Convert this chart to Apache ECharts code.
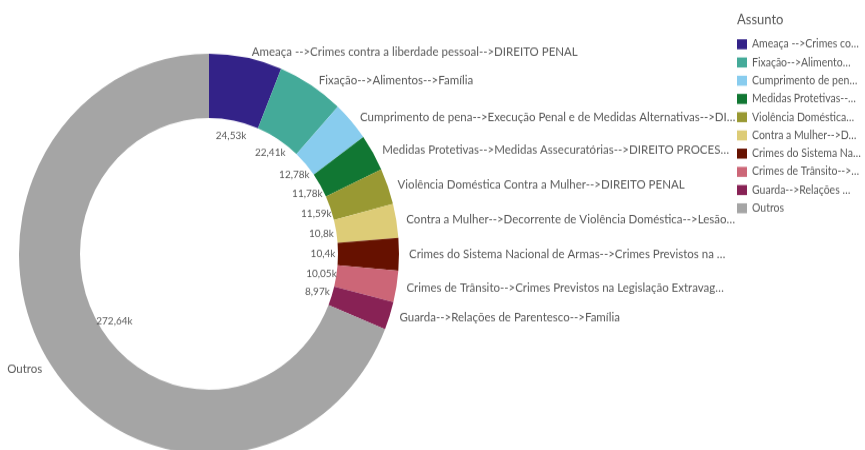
<!DOCTYPE html>
<html>
<head>
<meta charset="utf-8">
<script src="https://cdn.jsdelivr.net/npm/echarts@6/dist/echarts.min.js"></script>
<style>
  html, body { margin: 0; padding: 0; background: #fff; overflow: hidden; height: 450px; }
  /* a imagem de referência está esticada na vertical (~5%) */
  #chart { width: 865px; height: 450px; transform: scaleY(1.0535); transform-origin: 0 0; }
</style>
</head>
<body>
<div id="chart"></div>
<script>
// assuntos, na ordem horária a partir das 12h
const assuntos = [
  'Ameaça -->Crimes contra a liberdade pessoal-->DIREITO PENAL',
  'Fixação-->Alimentos-->Família',
  'Cumprimento de pena-->Execução Penal e de Medidas Alternativas-->DI…',
  'Medidas Protetivas-->Medidas Assecuratórias-->DIREITO PROCES…',
  'Violência Doméstica Contra a Mulher-->DIREITO PENAL',
  'Contra a Mulher-->Decorrente de Violência Doméstica-->Lesão…',
  'Crimes do Sistema Nacional de Armas-->Crimes Previstos na …',
  'Crimes de Trânsito-->Crimes Previstos na Legislação Extravag…',
  'Guarda-->Relações de Parentesco-->Família',
  'Outros'
];
// valores em milhares
const valores = [24.53, 22.41, 12.78, 11.78, 11.59, 10.8, 10.4, 10.05, 8.97, 272.64];
const cores = ['#332288', '#44aa99', '#88ccee', '#117733', '#999933', '#ddcc77', '#661100', '#cc6677', '#882255', '#a5a5a5'];

const fonte = 'Lato, "Open Sans", sans-serif';
const cinza = '#595959';
const dados = assuntos.map((n, i) => ({ name: n, value: valores[i] }));
const fmt = v => String(v).replace('.', ',') + 'k';

const chart = echarts.init(document.getElementById('chart'));
chart.setOption({
  animation: false,
  color: cores,
  textStyle: { fontFamily: fonte },
  title: {
    text: 'Assunto',
    left: 737, top: 12, padding: 0,
    textStyle: { fontSize: 13, fontWeight: 'normal', color: cinza, fontFamily: fonte }
  },
  legend: {
    orient: 'vertical',
    left: 737, top: 36, padding: 0,
    icon: 'rect',
    itemWidth: 10, itemHeight: 9.5,
    itemGap: 5.3,
    data: assuntos,
    textStyle: {
      fontSize: 10.5, color: cinza, fontFamily: fonte, lineHeight: 12,
      width: 110, overflow: 'truncate', ellipsis: '…'
    }
  },
  series: [
    {
      type: 'pie',
      center: [209, 241],
      radius: [129, 190],
      startAngle: 90,
      avoidLabelOverlap: false,
      data: dados,
      label: {
        show: true, position: 'outside',
        color: cinza, fontSize: 11.5, fontFamily: fonte,
        formatter: '{b}'
      },
      labelLine: { show: false, length: 5, length2: 0 },
      emphasis: { disabled: true }
    },
    {
      // só para os rótulos de valor, junto à borda interna
      type: 'pie',
      center: [209, 241],
      radius: [0, 222],
      startAngle: 90,
      silent: true,
      avoidLabelOverlap: false,
      data: dados,
      itemStyle: { color: 'rgba(0,0,0,0)' },
      label: {
        show: true, position: 'inside',
        color: cinza, fontSize: 10, fontFamily: fonte,
        formatter: p => fmt(p.value)
      },
      labelLine: { show: false },
      emphasis: { disabled: true }
    }
  ]
});
</script>
</body>
</html>
